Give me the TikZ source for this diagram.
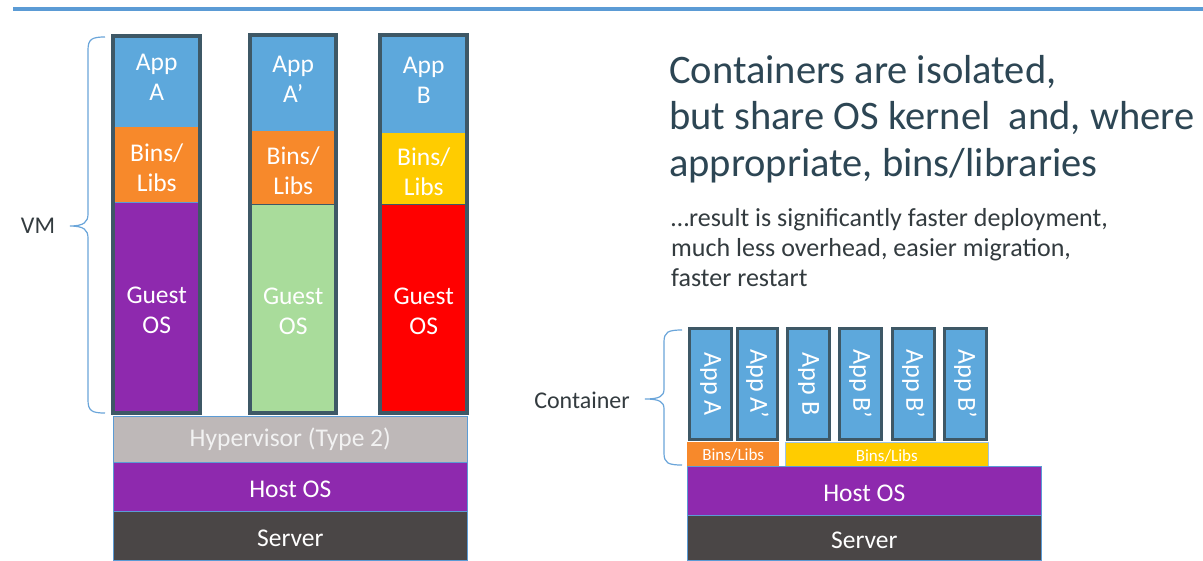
\documentclass[tikz,border=0pt]{standalone}
\usepackage{fontspec}
\setmainfont{Carlito}
\definecolor{topblue}{HTML}{5B9BD5}
\definecolor{appblue}{HTML}{5DA8DC}
\definecolor{binorange}{HTML}{F7892B}
\definecolor{binyellow}{HTML}{FFCC00}
\definecolor{ospurple}{HTML}{8E29AE}
\definecolor{osgreen}{HTML}{A9DC9B}
\definecolor{osred}{HTML}{FF0000}
\definecolor{hypgray}{HTML}{BEB8B8}
\definecolor{servdark}{HTML}{4A4646}
\definecolor{colborder}{HTML}{3E5866}
\definecolor{titletext}{HTML}{2D4654}
\definecolor{bodytext}{HTML}{333B3F}
\definecolor{bracecol}{HTML}{6AA5DA}
\begin{document}
\begin{tikzpicture}[x=1pt,y=-1pt,
  sect/.style={inner sep=0pt, anchor=north west, text=white, align=center,
    font=\fontsize{25.5}{30}\selectfont},
  appsect/.style={sect, fill=appblue, text depth=8pt},
  binsect/.style={sect, text height=53pt},
  guestsect/.style={sect, text height=52.5pt},
  layer/.style={sect, draw=topblue, line width=0.6pt},
  baselayer/.style={layer, text height=22pt, text depth=0pt},
  colframe/.style={draw=colborder, line width=4pt},
  sepline/.style={line width=1pt},
  cbox/.style={draw=colborder, line width=3pt, fill=appblue, rotate=-90,
    minimum width=111pt, minimum height=42pt, inner sep=0pt, text=white,
    font=\fontsize{26}{30}\selectfont},
  smallbin/.style={inner sep=0pt, anchor=north west, text=white,
    font=\fontsize{17}{20}\selectfont},
  bracepath/.style={draw=bracecol, line width=1.2pt},
  sidelabel/.style={text=bodytext, font=\fontsize{24}{28}\selectfont, inner sep=0pt}
]
\useasboundingbox (0,0) rectangle (1203,560);
\fill[white] (0,0) rectangle (1203,560);

% top rule
\draw[topblue, line width=4pt] (13,9) -- (1203,9);

% ---------------- VM side ----------------
% column 1
\node[appsect, minimum width=87pt, minimum height=91pt] (a1) at (113,36) {App\\A};
\node[binsect, fill=binorange, minimum width=87pt, minimum height=75pt] (b1) at (113,127) {Bins/\\Libs};
\node[guestsect, fill=ospurple, minimum width=87pt, minimum height=211pt] (g1) at (113,202) {Guest\\OS};
\draw[sepline, topblue] (b1.south west) -- (b1.south east);
\draw[colframe] (a1.north west) rectangle (g1.south east);

% column 2
\node[appsect, minimum width=86pt, minimum height=96pt] (a2) at (250,35) {App\\A’};
\node[binsect, fill=binorange, minimum width=86pt, minimum height=73pt] (b2) at (250,131) {Bins/\\Libs};
\node[guestsect, fill=osgreen, minimum width=86pt, minimum height=209pt] (g2) at (250,204) {Guest\\OS};
\draw[sepline, colborder] (b2.south west) -- (b2.south east);
\draw[colframe] (a2.north west) rectangle (g2.south east);

% column 3
\node[appsect, minimum width=87pt, minimum height=98pt] (a3) at (380,35) {App\\B};
\node[binsect, fill=binyellow, minimum width=87pt, minimum height=71pt] (b3) at (380,133) {Bins/\\Libs};
\node[guestsect, fill=osred, minimum width=87pt, minimum height=209pt] (g3) at (380,204) {Guest\\OS};
\draw[sepline, colborder] (b3.south west) -- (b3.south east);
\draw[colframe] (a3.north west) rectangle (g3.south east);

% base layers
\node[layer, fill=hypgray, text=white!95!black, minimum width=354pt, minimum height=46pt] (hyp) at (113,416) {Hypervisor (Type 2)};
\node[baselayer, fill=ospurple, minimum width=354pt, minimum height=49pt] (host1) at (113,462) {Host OS};
\node[baselayer, fill=servdark, minimum width=354pt, minimum height=49pt] (serv1) at (113,511) {Server};

% VM brace and label
\node[sidelabel] (vm) at (38,226) {VM};
\coordinate (vmtop) at (105,37);
\coordinate (vmtip) at (70,226);
\coordinate (vmbot) at (105,413);
\draw[bracepath] (vmtop) .. controls (92,37) and (88,39) .. (88,50) -- (88,214)
  .. controls (88,222) and (84,226) .. (vmtip)
  .. controls (84,226) and (88,230) .. (88,238) -- (88,400)
  .. controls (88,411) and (92,413) .. (vmbot);

% ---------------- right side text ----------------
\node[anchor=base west, inner sep=0pt, align=left, text=titletext,
  font=\fontsize{40.5}{46.5}\selectfont] (title) at (669,176)
  {Containers are isolated,\\but share OS kernel\ \ and, where\\appropriate, bins/libraries};
\node[anchor=base west, inner sep=0pt, align=left, text=bodytext,
  font=\fontsize{26}{30}\selectfont] (sub) at (671,286)
  {…result is significantly faster deployment,\\much less overhead, easier migration,\\faster restart};

% ---------------- container side ----------------
\node[cbox] (c1) at (710.5,384) {App A};
\node[cbox, minimum height=40pt] (c2) at (757.5,384) {App A’};
\node[cbox] (c3) at (808.5,384) {App B};
\node[cbox] (c4) at (860.5,384) {App B’};
\node[cbox] (c5) at (913.5,384) {App B’};
\node[cbox] (c6) at (965.5,384) {App B’};

\node[smallbin, fill=binorange, minimum width=92pt, minimum height=25pt] (cb1) at (687,442) {Bins/Libs};
\node[smallbin, fill=binyellow, draw=topblue!60, line width=0.5pt, minimum width=203pt, minimum height=27pt] (cb2) at (785,442) {Bins/Libs};

\node[baselayer, fill=ospurple, minimum width=354pt, minimum height=49pt] (host2) at (687,466) {Host OS};
\node[baselayer, fill=servdark, minimum width=354pt, minimum height=45pt] (serv2) at (687,515) {Server};

% container brace and label
\node[sidelabel] (cont) at (582,400) {Container};
\coordinate (cttop) at (682,330);
\coordinate (cttip) at (645,399);
\coordinate (ctbot) at (682,465);
\draw[bracepath] (cttop) .. controls (668,330) and (664,332) .. (664,342) -- (664,389)
  .. controls (664,396) and (660,399) .. (cttip)
  .. controls (660,399) and (664,402) .. (664,409) -- (664,453)
  .. controls (664,463) and (668,465) .. (ctbot);
\end{tikzpicture}
\end{document}
